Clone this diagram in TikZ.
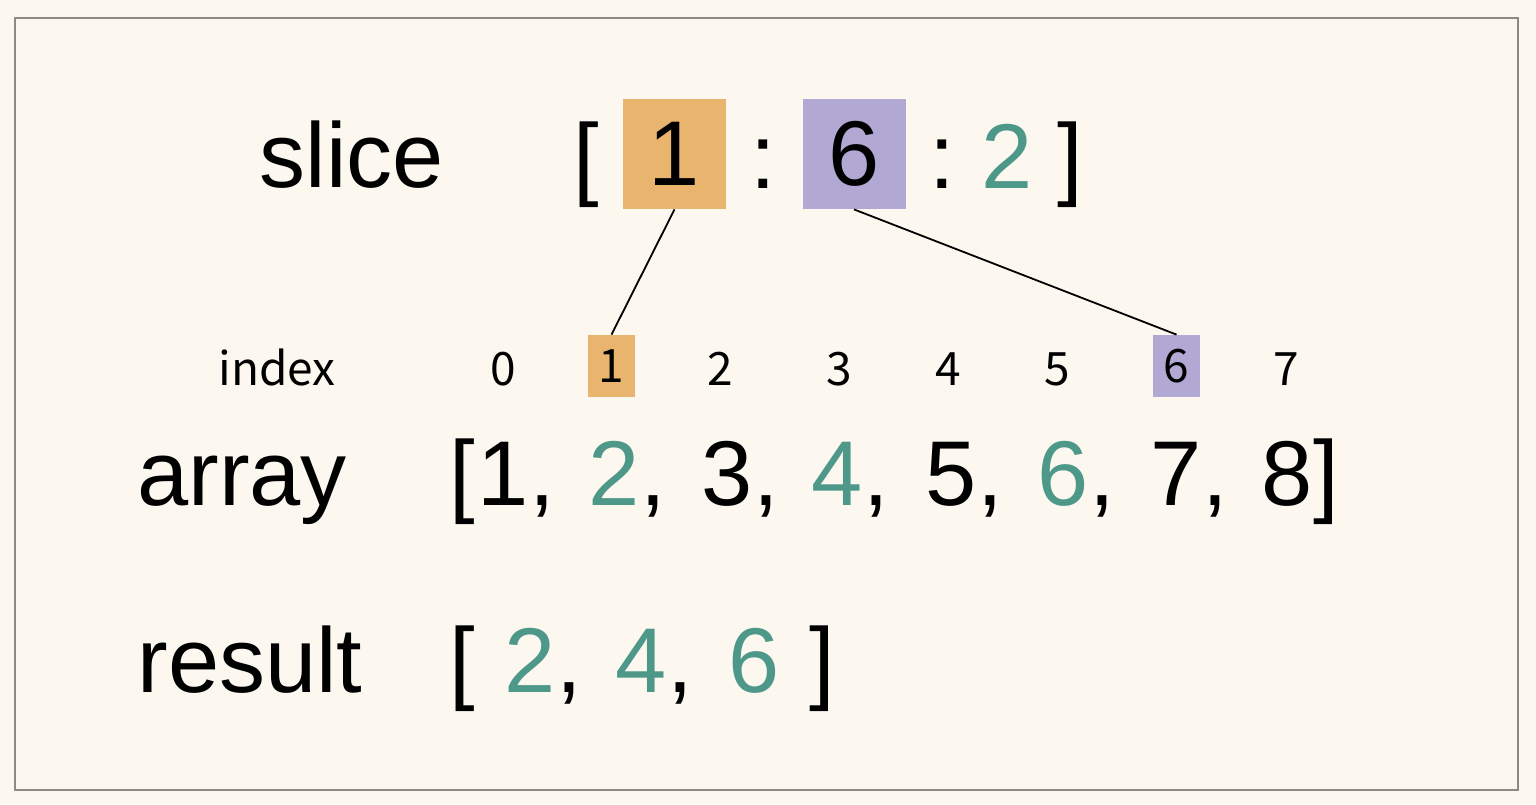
\documentclass[tikz,border=0pt]{standalone}
\usepackage{fontspec}
\setmainfont{Liberation Sans}
\newfontfamily\idxfont{Noto Sans CJK SC}
\usetikzlibrary{positioning}
\definecolor{startc}{HTML}{E8B46E}
\definecolor{stopc}{HTML}{B2A8D4}
\definecolor{stepc}{HTML}{4E988A}
\definecolor{paper}{HTML}{FCF8F0}
\definecolor{frame}{HTML}{8C8A86}

\begin{document}
\begin{tikzpicture}[x=0.5pt,y=-0.5pt,
      big/.style={font=\fontsize{46}{52}\selectfont, inner sep=0pt, anchor=base},
      small/.style={font=\idxfont\fontsize{23}{28}\selectfont, inner sep=0pt, anchor=base},
      bigbox/.style={font=\fontsize{46}{52}\selectfont, inner sep=0pt, minimum width=51.5pt, minimum height=55pt},
      smallbox/.style={font=\idxfont\fontsize{23}{28}\selectfont, inner sep=0pt, minimum width=23.5pt, minimum height=31pt},
      link/.style={line width=0.9pt}]
      % paper and frame
      \fill[paper] (0,0) rectangle (1536,804);
      \draw[frame, line width=1pt] (15,18) rectangle (1518,790);
      % slice row
      \node[big] (slicelbl) at (352,187) {slice};
      \node[big] (sopen) at (586,188) {[};
      \node[bigbox, fill=startc] (s1) at (674.5,154) {1};
      \node[big] (scol1) at (763,188) {:};
      \node[bigbox, fill=stopc] (s6) at (854,154) {6};
      \node[big] (scol2) at (942,188) {:};
      \node[big, text=stepc] (s2) at (1007,188) {2};
      \node[big] (sclose) at (1070,188) {]};
      % index row
      \node[small, anchor=base west] (idxlbl) at (218,385) {index};
      \foreach \x/\i in {503/0, 720/2, 839/3, 948/4, 1057/5, 1286/7}
        \node[small] (i\i) at (\x,385) {\i};
      \node[smallbox, fill=startc] (i1) at (611.5,366) {1};
      \node[smallbox, fill=stopc] (i6) at (1176.5,366) {6};
      \draw[link] (s1.south) -- (i1.north);
      \draw[link] (s6.south) -- (i6.north);
      % array row
      \node[big, anchor=base west] (arrlbl) at (137,505) {array};
      \node[big] (aopen) at (462,505) {[};
      \foreach \x/\d/\c in {503/1/black, 614/2/stepc, 727/3/black, 837/4/stepc,
                            951/5/black, 1063/6/stepc, 1176/7/black}
        {
        \node[big, text=\c] (a\d) at (\x,505) {\d};
        \node[big, anchor=base west] at (a\d.base east) {,};
        }
      \node[big] (a8) at (1287,505) {8};
      \node[big, anchor=base west] (aclose) at (a8.base east) {]};
      % result row
      \node[big, anchor=base west] (reslbl) at (137,692) {result};
      \node[big] (ropen) at (462,692) {[};
      \foreach \x/\d in {530/2, 641/4}
        {
        \node[big, text=stepc] (r\d) at (\x,692) {\d};
        \node[big, anchor=base west] at (r\d.base east) {,};
        }
      \node[big, text=stepc] (r6) at (754,692) {6};
      \node[big] (rclose) at (822,692) {]};
    \end{tikzpicture}
\end{document}
